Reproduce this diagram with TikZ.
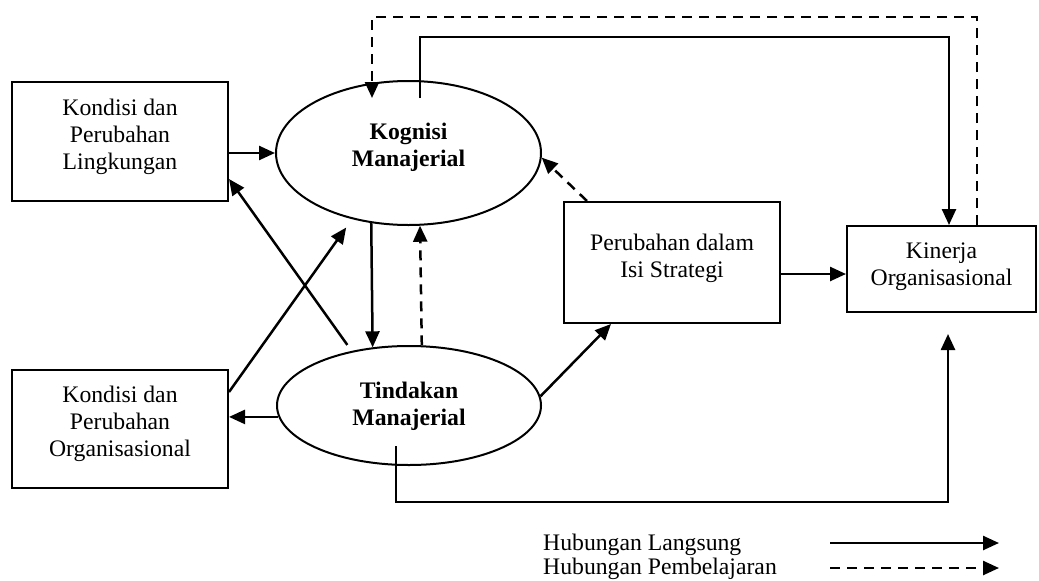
\documentclass[tikz,border=0pt]{standalone}
\usepackage{fontspec}
\setmainfont{Liberation Serif}
\usetikzlibrary{arrows.meta,shapes.geometric,calc}
\begin{document}
\begin{tikzpicture}[x=1pt,y=-1pt,
  shapeline/.style={draw=black,line width=2pt},
  box/.style={shapeline,rectangle,inner sep=0pt},
  oval/.style={shapeline,ellipse,inner sep=0pt},
  txt/.style={align=center,inner sep=0pt,font=\fontsize{23.7}{26.7}\selectfont},
  btxt/.style={txt,font=\fontsize{23.7}{27}\selectfont\bfseries},
  link/.style={line width=2.5pt,-{Triangle[length=16pt,width=14pt]}},
  learn/.style={link,dash pattern=on 10pt off 7pt},
]
\useasboundingbox (0,0) rectangle (1039,581);

% boxes and ovals
\node[box,minimum width=216pt,minimum height=119pt] (b1) at (120,141.5) {};
\node[txt] (b1t) at (120,137) {Kondisi dan\\Perubahan\\Lingkungan};
\node[box,minimum width=216pt,minimum height=118pt] (b2) at (120,429) {};
\node[txt] (b2t) at (120,424) {Kondisi dan\\Perubahan\\Organisasional};
\node[box,minimum width=216pt,minimum height=121pt] (ps) at (672,262.5) {};
\node[txt] (pst) at (672,258) {Perubahan dalam\\Isi Strategi};
\node[box,minimum width=189pt,minimum height=86pt] (kin) at (941.5,269) {};
\node[txt] (kint) at (941.5,267) {Kinerja\\Organisasional};
\node[oval,minimum width=265pt,minimum height=144pt] (kog) at (408.5,153) {};
\node[btxt] (kogt) at (408.5,147) {Kognisi\\Manajerial};
\node[oval,minimum width=264pt,minimum height=119pt] (tin) at (409,405.5) {};
\node[btxt] (tint) at (409,406) {Tindakan\\Manajerial};

% direct relations
\draw[link] (b1.east |- kog.west) -- (kog.west);
\draw[link] (tin.185.5) -- (b2.east |- tin.185.5);
\draw[link] (kog.242.2) -- (tin.122.9);
\draw[link] ($(tin.139.1)+(0,-7)$) -- ($(b1.south east)+(0,-23)$);
\draw[link] ($(b2.north east)+(0,23)$) -- ($(kog.226.7)+(0,10)$);
\draw[link] (tin.4.5) -- ($(ps.south west)+(48,0)$);
\draw[link] ($(ps.east)+(0,11.5)$) -- ($(kin.west)+(0,5)$);
\coordinate (topS) at (949,37);
\draw[link] ($(kog.north)+(11.5,18)$) |- (topS) -- (topS |- kin.north);
\coordinate (botR) at (948,502);
\draw[link] ($(tin.south)+(-13,-20)$) |- (botR) -- ($(kin.south)+(6.5,21)$);

% learning relations
\draw[learn] (tin.78.5) -- (kog.279.9);
\draw[learn] ($(ps.north west)+(24,0)$) -- (kog.358.5);
\coordinate (topD) at (977,17);
\draw[learn] ($(kin.north)+(35.5,0)$) -- (topD) -| ($(kog.north)+(-36.5,18)$);

% legend
\node[txt,anchor=base west] (l1) at (543,550) {Hubungan Langsung};
\node[txt,anchor=base west] (l2) at (543,574) {Hubungan Pembelajaran};
\coordinate (l1a) at (830,543);
\coordinate (l1b) at (999,543);
\coordinate (l2a) at (830,568);
\coordinate (l2b) at (999,568);
\draw[link] (l1a) -- (l1b);
\draw[learn] (l2a) -- (l2b);
\end{tikzpicture}
\end{document}
